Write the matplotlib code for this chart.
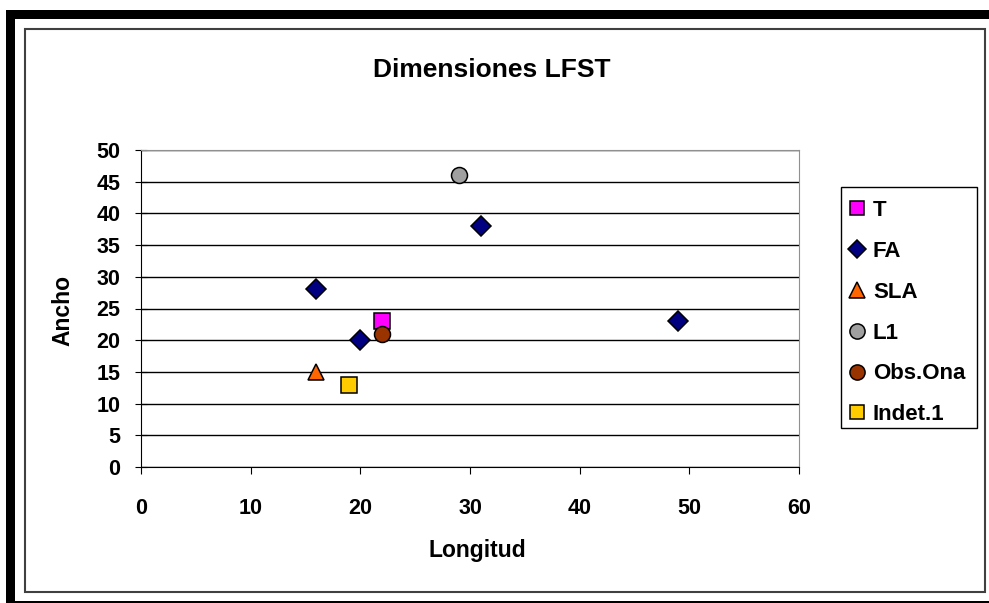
import matplotlib
matplotlib.use("Agg")
from matplotlib import pyplot as plt
from matplotlib.patches import Rectangle

plt.rcParams['font.family'] = ['Liberation Sans', 'DejaVu Sans']
plt.rcParams['font.weight'] = 'bold'

# data
t_x, t_y = [22], [23]
fa_x, fa_y = [16, 20, 31, 49], [28, 20, 38, 23]
sla_x, sla_y = [16], [15]
l1_x, l1_y = [29], [46]
obs_x, obs_y = [22], [21]
indet_x, indet_y = [19], [13]

series = [
    ("T", t_x, t_y, "s", "#FF00FF", 11),
    ("FA", fa_x, fa_y, "D", "#000080", 10),
    ("SLA", sla_x, sla_y, "^", "#FF6600", 12),
    ("L1", l1_x, l1_y, "o", "#A0A0A0", 11.5),
    ("Obs.Ona", obs_x, obs_y, "o", "#993300", 11.5),
    ("Indet.1", indet_x, indet_y, "s", "#FFCC00", 11),
]

fig = plt.figure(figsize=(9.89, 6.03), dpi=100)
W, H = 989, 603

def px_rect(x0, y0, x1, y1, **kw):
    fig.patches.append(Rectangle((x0 / W, 1 - y1 / H), (x1 - x0) / W, (y1 - y0) / H,
                                 transform=fig.transFigure, **kw))

# outer frame
px_rect(6, 10, 989, 19, color="black", lw=0)
px_rect(6, 10, 15, 603, color="black", lw=0)
px_rect(15, 601, 989, 603, color="black", lw=0)
px_rect(24.5, 28.5, 984.5, 592, fill=False, edgecolor="#404040", lw=1.5)

ax = fig.add_axes([141 / W, 1 - 467 / H, 658 / W, 317 / H])
for name, xs, ys, m, c, ms in series:
    ax.plot(xs, ys, linestyle="none", marker=m, color=c, markersize=ms,
            markeredgecolor="black", markeredgewidth=1.1, label=name, zorder=3,
            clip_on=False)

ax.set_xlim(0, 60)
ax.set_ylim(0, 50)
ax.set_xticks(range(0, 61, 10))
ax.set_yticks(range(0, 51, 5))
ax.yaxis.grid(True, color="black", lw=1.0)
ax.set_axisbelow(True)
ax.tick_params(axis="x", labelsize=15.5, length=5, direction="out", color="black", pad=17)
ax.tick_params(axis="y", labelsize=15.5, length=8, direction="inout", color="black", pad=11)
for lab in ax.get_xticklabels() + ax.get_yticklabels():
    lab.set_fontweight("bold")
ax.spines["top"].set_color("#909090")
ax.spines["right"].set_color("#909090")
ax.spines["left"].set_color("black")
ax.spines["bottom"].set_color("black")

fig.text(477 / W, 1 - 557 / H, "Longitud", fontsize=16.5, fontweight="bold",
         ha="center", va="baseline")
fig.text(63 / W, 1 - 311 / H, "Ancho", fontsize=16.5, fontweight="bold",
         ha="center", va="center", rotation=90)
fig.text(492 / W, 1 - 77 / H, "Dimensiones LFST", fontsize=19, fontweight="bold",
         ha="center", va="baseline")

# legend box drawn by hand, entries from fig.legend
px_rect(841, 187, 977, 428, facecolor="white", edgecolor="black", lw=1.0)
leg = fig.legend(loc="upper left", bbox_to_anchor=(834 / W, 1 - 188 / H),
                 frameon=False, prop={"size": 16, "weight": "bold"},
                 handletextpad=0.2, handlelength=1.0, labelspacing=0.89,
                 borderpad=0.55, borderaxespad=0, markerscale=0.95)

fig.savefig("out.png", dpi=100)
